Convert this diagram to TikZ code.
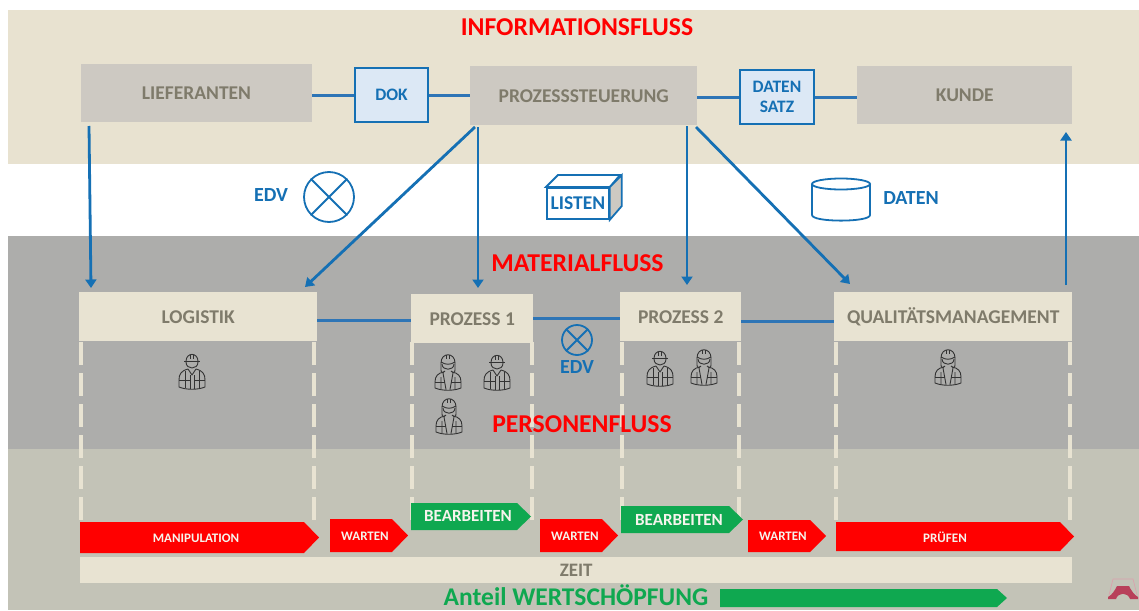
\documentclass[tikz,border=0pt]{standalone}
\usepackage{fontspec}
\setmainfont{Carlito}
\usetikzlibrary{arrows.meta,shapes.geometric,calc}
\definecolor{bandtop}{HTML}{E8E2D0}
\definecolor{bandgray}{HTML}{ADADAB}
\definecolor{bandlow}{HTML}{C3C3B7}
\definecolor{boxgray}{HTML}{CDC9C2}
\definecolor{boxlight}{HTML}{E8E3D2}
\definecolor{txtgray}{HTML}{7F7B6B}
\definecolor{flowblue}{HTML}{1570B4}
\definecolor{lineblue}{HTML}{2E75B6}
\definecolor{doc}{HTML}{DCE8F5}
\definecolor{gr}{HTML}{0FA850}
\definecolor{rd}{HTML}{FF0000}
\definecolor{logo}{HTML}{B8405A}
\tikzset{
 x=1pt,y=-1pt,
 band/.style={fill=#1,draw=none},
 topbox/.style={fill=boxgray,draw=none,text=txtgray,font=\bfseries\fontsize{19.5}{21}\selectfont,anchor=north west,inner sep=0pt,align=center},
 procbox/.style={fill=boxlight,draw=none,text=txtgray,font=\bfseries\fontsize{19.5}{21}\selectfont,anchor=north west,inner sep=0pt,align=center},
 docbox/.style={fill=doc,draw=flowblue,line width=2pt,text=flowblue,font=\bfseries\fontsize{17.5}{20.5}\selectfont,anchor=north west,inner sep=0pt,align=center},
 link/.style={draw=lineblue,line width=3pt},
 flow/.style={draw=flowblue,line width=2.8pt,-{Triangle[length=8.5pt,width=11pt]}},
 heading/.style={text=rd,font=\bfseries\fontsize{25.7}{28}\selectfont},
 bluetxt/.style={text=flowblue,font=\bfseries\fontsize{20}{22}\selectfont},
 symbol/.style={draw=flowblue,line width=1.8pt},
 dashline/.style={draw=boxlight,line width=3.2pt,dash pattern=on 23pt off 8pt},
 chev/.style={fill=#1,draw=none},
 chevtxt/.style={text=boxlight!40!white,font=\bfseries\fontsize{13}{15}\selectfont},
 chevtxtb/.style={text=boxlight!40!white,font=\bfseries\fontsize{17}{19}\selectfont},
 person/.style={draw=black!80,line width=0.9pt,line join=round,fill=none},
}
% male worker
\newcommand{\manicon}[1]{%
\begin{scope}[shift={#1},person]
 \draw (-6,-10) .. controls (-6,-2) and (6,-2) .. (6,-10);
 \draw (-6,-10.5) .. controls (-6,-20) and (6,-20) .. (6,-10.5);
 \draw (-8,-10.5) -- (8,-10.5);
 \draw (-1.5,-17.5) -- (-1.5,-13) (1.5,-17.5) -- (1.5,-13);
 \draw (-4,-3) .. controls (-11,-1) and (-13,2) .. (-13,8) -- (-13,15) .. controls (-6,18) and (6,18) .. (13,15) -- (13,8) .. controls (13,2) and (11,-1) .. (4,-3);
 \draw (-4,-3) -- (0,3) -- (4,-3);
 \draw (-7,-1) -- (-7,16) (7,-1) -- (7,16) (-2,3) -- (-2,16.5) (2,3) -- (2,16.5);
 \draw (-13,8) -- (-2,8) (2,8) -- (13,8);
\end{scope}}
% female worker
\newcommand{\womanicon}[1]{%
\begin{scope}[shift={#1},person]
 \draw (-6,-9) .. controls (-6,-2) and (6,-2) .. (6,-9);
 \draw (-7,-10) .. controls (-7,-21) and (7,-21) .. (7,-10) -- (7,-3) .. controls (7,0) and (5,0) .. (3,-2);
 \draw (-7,-10) -- (-7,-3) .. controls (-7,0) and (-5,0) .. (-3,-2);
 \draw (-7,-11) .. controls (-2,-8) and (2,-8) .. (7,-11);
 \draw (-1.5,-18) -- (-1.5,-14) (1.5,-18) -- (1.5,-14);
 \draw (-4,-1) .. controls (-10,0) and (-13,3) .. (-13,9) -- (-13,15) .. controls (-6,18) and (6,18) .. (13,15) -- (13,9) .. controls (13,3) and (10,0) .. (4,-1);
 \draw (-5,0) -- (-2,16.5) (5,0) -- (2,16.5) (-7,4) -- (-7,16.5) (7,4) -- (7,16.5);
 \draw (-13,9) -- (-3,9) (3,9) -- (13,9);
\end{scope}}
\begin{document}
\begin{tikzpicture}
\useasboundingbox (0,0) rectangle (1139,610);
\fill[white] (0,0) rectangle (1139,610);
% bands
\path[band=bandtop] (8,10) rectangle (1139,164);
\path[band=bandgray] (8,236) rectangle (1139,449);
\path[band=bandlow] (8,449) rectangle (1139,610);

% dashed columns
\foreach \xx in {81,314,412,532,622,739,836,1070}{
 \coordinate (dtop) at (\xx,342);
 \coordinate (dbot) at (\xx,522);
 \draw[dashline] (dtop) -- (dbot);
}

% top boxes
\node[topbox,minimum width=231.5pt,minimum height=58pt] (lief) at (80.5,64) {LIEFERANTEN};
\node[topbox,minimum width=227pt,minimum height=59pt] (steu) at (470,66) {PROZESSSTEUERUNG};
\node[topbox,minimum width=215pt,minimum height=58pt] (kunde) at (857,66) {KUNDE};
\node[docbox,minimum width=73pt,minimum height=54pt] (dok) at (354,67) {DOK};
\node[docbox,minimum width=74pt,minimum height=54pt] (satz) at (739,69) {DATEN\\SATZ};

% process boxes
\node[procbox,minimum width=238pt,minimum height=49pt] (log) at (79,292) {LOGISTIK};
\node[procbox,minimum width=122pt,minimum height=49pt] (p1) at (411,294) {PROZESS 1};
\node[procbox,minimum width=121pt,minimum height=49pt] (p2) at (620,292) {PROZESS 2};
\node[procbox,minimum width=238pt,minimum height=49pt] (qm) at (834,292) {QUALITÄTSMANAGEMENT};

% horizontal links
\draw[link] (dok.west) -- (lief.east |- dok.west);
\draw[link] (dok.east) -- (steu.west |- dok.east);
\draw[link] (satz.west) -- (steu.east |- satz.west);
\draw[link] (satz.east) -- (kunde.west |- satz.east);
\draw[link] ($(log.east)+(0,4)$) -- ($(p1.west)+(0,2)$);
\draw[link] (p1.east) -- (p2.west |- p1.east);
\draw[link] ($(p2.east)+(0,4.5)$) -- ($(qm.west)+(0,4.5)$);

% flows
\coordinate (a1s) at (89,126); \coordinate (a1e) at (91,288);
\coordinate (a2s) at (475,127); \coordinate (a2e) at (305,287);
\coordinate (a3s) at (478,127); \coordinate (a3e) at (478,288);
\coordinate (a4s) at (687,126); \coordinate (a4e) at (687,285);
\coordinate (a5s) at (696,127); \coordinate (a5e) at (850,284);
\coordinate (a6s) at (1066,285); \coordinate (a6e) at (1066,132);
\draw[flow] (a1s) -- (a1e);
\draw[flow] (a2s) -- (a2e);
\draw[flow] (a3s) -- (a3e);
\draw[flow] (a4s) -- (a4e);
\draw[flow] (a5s) -- (a5e);
\draw[flow] (a6s) -- (a6e);

% headings
\node[heading] (h1) at (577,27) {INFORMATIONSFLUSS};
\node[heading] (h2) at (577.5,263) {MATERIALFLUSS};
\node[heading] (h3) at (582,424) {PERSONENFLUSS};

% EDV symbol
\node[bluetxt] (edv1) at (271,195) {EDV};
\node[symbol,circle,minimum size=50pt,inner sep=0pt] (c1) at (329,197) {};
\draw[symbol] (c1.45) -- (c1.225) (c1.135) -- (c1.315);

% LISTEN box
\node[symbol,fill=white,minimum width=62pt,minimum height=31pt,inner sep=0pt,anchor=north west,text=flowblue,font=\bfseries\fontsize{19.5}{21}\selectfont] (listen) at (546,187) {LISTEN};
\draw[symbol,fill=white] (listen.north west) -- ++(12,-12) -- ++(62,0) -- (listen.north east) -- cycle;
\draw[symbol,fill=boxgray] (listen.north east) -- ++(12,-12) -- ++(0,31) -- (listen.south east) -- cycle;

% DATEN cylinder
\draw[symbol,fill=white] (812,184) -- (812,215) .. controls (812,222.5) and (870,222.5) .. (870,215) -- (870,184);
\node[symbol,ellipse,fill=white,minimum width=58pt,minimum height=11pt,inner sep=0pt] (cyl) at (841,184) {};
\node[bluetxt] (daten) at (911,198) {DATEN};

% small EDV
\node[symbol,circle,minimum size=30pt,inner sep=0pt] (c2) at (577,340) {};
\draw[symbol] (c2.45) -- (c2.225) (c2.135) -- (c2.315);
\node[bluetxt] (edv2) at (577,367) {EDV};

% persons
\manicon{(192,372)}
\womanicon{(448,373)}
\manicon{(497,373)}
\womanicon{(449,417)}
\manicon{(660,369)}
\womanicon{(704,368)}
\womanicon{(948,368)}

% chevrons
\path[chev=rd] (80,522) -- (304,522) -- (319,537.5) -- (304,553) -- (80,553) -- cycle;
\node[chevtxt] (t1) at (196,538) {MANIPULATION};
\path[chev=rd] (330,519) -- (392,519) -- (408,535.5) -- (392,552) -- (330,552) -- cycle;
\node[chevtxt] (t2) at (365,536) {WARTEN};
\path[chev=gr] (411,503) -- (517,503) -- (531,516.5) -- (517,530) -- (411,530) -- cycle;
\node[chevtxtb] (t3) at (468,516) {BEARBEITEN};
\path[chev=rd] (540,519) -- (602,519) -- (618,535.5) -- (602,552) -- (540,552) -- cycle;
\node[chevtxt] (t4) at (575,536) {WARTEN};
\path[chev=gr] (621,506) -- (729,506) -- (743,519.5) -- (729,533) -- (621,533) -- cycle;
\node[chevtxtb] (t5) at (679,519.5) {BEARBEITEN};
\path[chev=rd] (748,520) -- (810,520) -- (826,536) -- (810,552) -- (748,552) -- cycle;
\node[chevtxt] (t6) at (783,536) {WARTEN};
\path[chev=rd] (836,522) -- (1060,522) -- (1074,536.5) -- (1060,551) -- (836,551) -- cycle;
\node[chevtxt] (t7) at (945,537) {PRÜFEN};

% time bar
\node[fill=boxlight,minimum width=992pt,minimum height=26pt,inner sep=0pt,anchor=north west,text=txtgray,font=\bfseries\fontsize{19}{21}\selectfont] (zeit) at (80,557) {ZEIT};
\node[text=gr,inner sep=0pt,font=\bfseries\fontsize{25.5}{28}\selectfont] (ant) at (576,595) {Anteil WERTSCHÖPFUNG};
\path[chev=gr] (720,589) -- (997,589) -- (1007,598) -- (997,607) -- (720,607) -- cycle;

% logo
\path[fill=logo] (1108,597) .. controls (1112,595) and (1115,590) .. (1117,586) -- (1129,586) .. controls (1131,590) and (1134,595) .. (1138,597) -- (1138,599) -- (1130,599) .. controls (1128,592) and (1118,592) .. (1116,599) -- (1108,599) -- cycle;
\draw[logo!50!white,line width=0.6pt] (1109,595) -- (1113,579) -- (1133,579) -- (1137,595);
\end{tikzpicture}
\end{document}
